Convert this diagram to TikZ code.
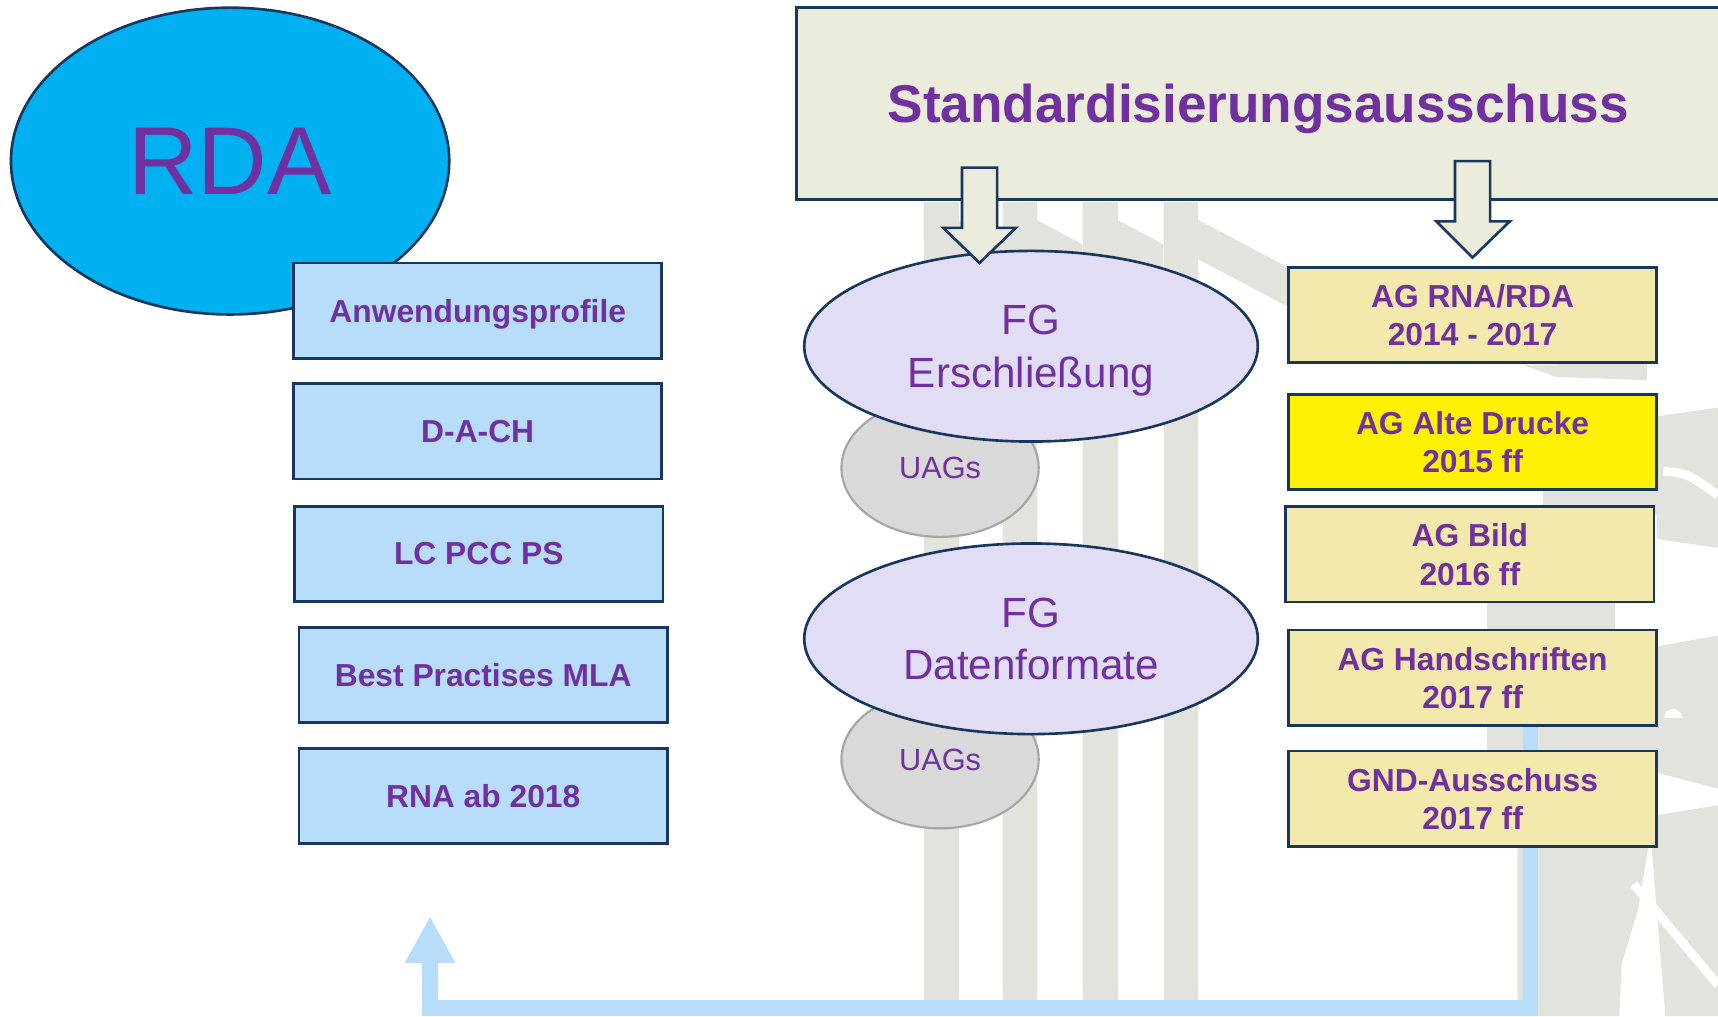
\documentclass[tikz,border=0pt]{standalone}
\usepackage{fontspec}
\setmainfont{Liberation Sans}
\usetikzlibrary{shapes.geometric,arrows.meta}
\definecolor{navy}{HTML}{17375E}
\definecolor{rdablue}{HTML}{00B0F0}
\definecolor{purp}{HTML}{7030A0}
\definecolor{boxblue}{HTML}{B8DDFB}
\definecolor{headbg}{HTML}{ECECDC}
\definecolor{lav}{HTML}{E1DDF4}
\definecolor{uaggrey}{HTML}{D9D9D9}
\definecolor{uagline}{HTML}{A6A6A6}
\definecolor{khaki}{HTML}{F3E9AD}
\definecolor{wm}{HTML}{E3E3DE}
\definecolor{fbblue}{HTML}{B8DDFB}
\pgfdeclarelayer{wmark}
\pgfdeclarelayer{behind}
\pgfsetlayers{wmark,behind,main}
\begin{document}
\begin{tikzpicture}[x=1pt,y=-1pt,
  every node/.style={text=purp, inner sep=0pt},
  lbox/.style={draw=navy, line width=2.4pt, fill=boxblue, minimum width=336pt, minimum height=87pt,
    font=\fontsize{29}{35}\selectfont\bfseries, text depth=0pt, align=center},
  rbox/.style={lbox, fill=khaki},
  fgell/.style={ellipse, draw=navy, line width=2.4pt, fill=lav, minimum width=414pt, minimum height=174pt,
    font=\fontsize{38.5}{48}\selectfont, align=center, text depth=0pt},
  uag/.style={ellipse, draw=uagline, line width=2pt, fill=uaggrey, minimum width=180pt, minimum height=126pt,
    font=\fontsize{28}{34}\selectfont, text depth=0pt},
  hollow/.style={draw=navy, line width=2.4pt, fill=headbg, line join=miter},
  fb/.style={draw=fbblue, line width=14pt, line join=miter, -{Triangle[width=43pt,length=43pt]}},
]
\useasboundingbox (0,0) rectangle (1568,927.3);

% ---------- watermark ----------
\begin{pgfonlayer}{wmark}
\begin{scope}
\clip (0,0) rectangle (1568,927.3);
\foreach \xa/\xb in {843/875, 915/946, 988/1020, 1062/1093}
  {\fill[wm] (\xa,184) rectangle (\xb,927.3);}
\fill[wm] (843,184) -- (915,222) -- (915,258) -- (843,220) -- cycle;
\fill[wm] (915,184) -- (988,223) -- (988,259) -- (915,220) -- cycle;
\fill[wm] (988,184) -- (1062,223) -- (1062,259) -- (988,220) -- cycle;
\fill[wm] (1062,184) -- (1185,249) -- (1185,285) -- (1062,220) -- cycle;
% eagle (rough)
\fill[wm] (1390,333) -- (1503,331) -- (1503,347) -- (1420,344) -- cycle;
\fill[wm] (1512,380) -- (1568,372) -- (1568,500) -- (1512,492) -- cycle;
\draw[white, line width=8pt] (1518,430) .. controls (1540,432) .. (1568,452);
\fill[wm] (1408,440) rectangle (1512,470);
\fill[wm] (1357,540) rectangle (1474,590);
\fill[wm] (1512,590) -- (1568,580) -- (1568,720) -- (1512,705) -- cycle;
\fill[white] (1527,655) circle (8);
\fill[wm] (1357,655) rectangle (1568,692);
\fill[wm] (1385,770) -- (1505,770) -- (1495,830) -- (1480,880) -- (1478,927.3) -- (1385,927.3) -- cycle;
\fill[wm] (1505,745) -- (1568,735) -- (1568,927.3) -- (1520,927.3) -- cycle;
\draw[white, line width=8pt] (1491,807) -- (1568,899);
\end{scope}
\end{pgfonlayer}

% ---------- RDA ----------
\node[ellipse, draw=navy, line width=2.4pt, fill=rdablue, minimum width=400pt, minimum height=280pt,
  font=\fontsize{88}{100}\selectfont, text depth=0pt] (rda) at (210,147) {RDA};

% ---------- header ----------
\node[draw=navy, line width=2.4pt, fill=headbg, minimum width=843pt, minimum height=175pt,
  font=\fontsize{48.5}{58}\selectfont\bfseries, text depth=0pt] (sa) at (1148.5,94.5) {Standardisierungsausschuss};

% ---------- left boxes ----------
\node[lbox] (anw)  at (436,283.5) {Anwendungsprofile};
\node[lbox] (dach) at (436,393.5) {D-A-CH};
\node[lbox] (lc)   at (437,505.5) {LC PCC PS};
\node[lbox] (best) at (441,616)   {Best Practises MLA};
\node[lbox] (rna)  at (441,726.5) {RNA ab 2018};

% ---------- FG ellipses ----------
\node[uag] (uag1) at (858,427) {UAGs};
\node[uag] (uag2) at (858,693) {UAGs};
\node[fgell] (fge) at (941,316) {FG\\Erschließung};
\node[fgell] (fgd) at (941,583) {FG\\Datenformate};

% ---------- right boxes ----------
\node[rbox] (rnarda) at (1344,287.5) {AG RNA/RDA\\2014 - 2017};
\node[rbox, fill=yellow] (alte) at (1344,403.5) {AG Alte Drucke\\2015 ff};
\node[rbox] (bild) at (1341.5,506) {AG Bild\\2016 ff};
\node[rbox] (hand) at (1344,618.5) {AG Handschriften\\2017 ff};
\node[rbox] (gnd)  at (1344,729) {GND-Ausschuss\\2017 ff};

% ---------- hollow block arrows ----------
\draw[hollow] (878,153) -- (910,153) -- (910,208) -- (927,208) -- (894,240) -- (861,208) -- (878,208) -- cycle;
\draw[hollow] (1328,147) -- (1360,147) -- (1360,202) -- (1378,202) -- (1344,235) -- (1311,202) -- (1328,202) -- cycle;

% ---------- feedback connector ----------
\begin{pgfonlayer}{behind}
\coordinate (fbx) at (1397,0);
\coordinate (fbturn) at (392.5,920);
\coordinate (fbtip) at (392.5,836);
\draw[fb] (hand.south -| fbx) |- (fbturn) -- (fbtip);
\end{pgfonlayer}
\end{tikzpicture}
\end{document}
